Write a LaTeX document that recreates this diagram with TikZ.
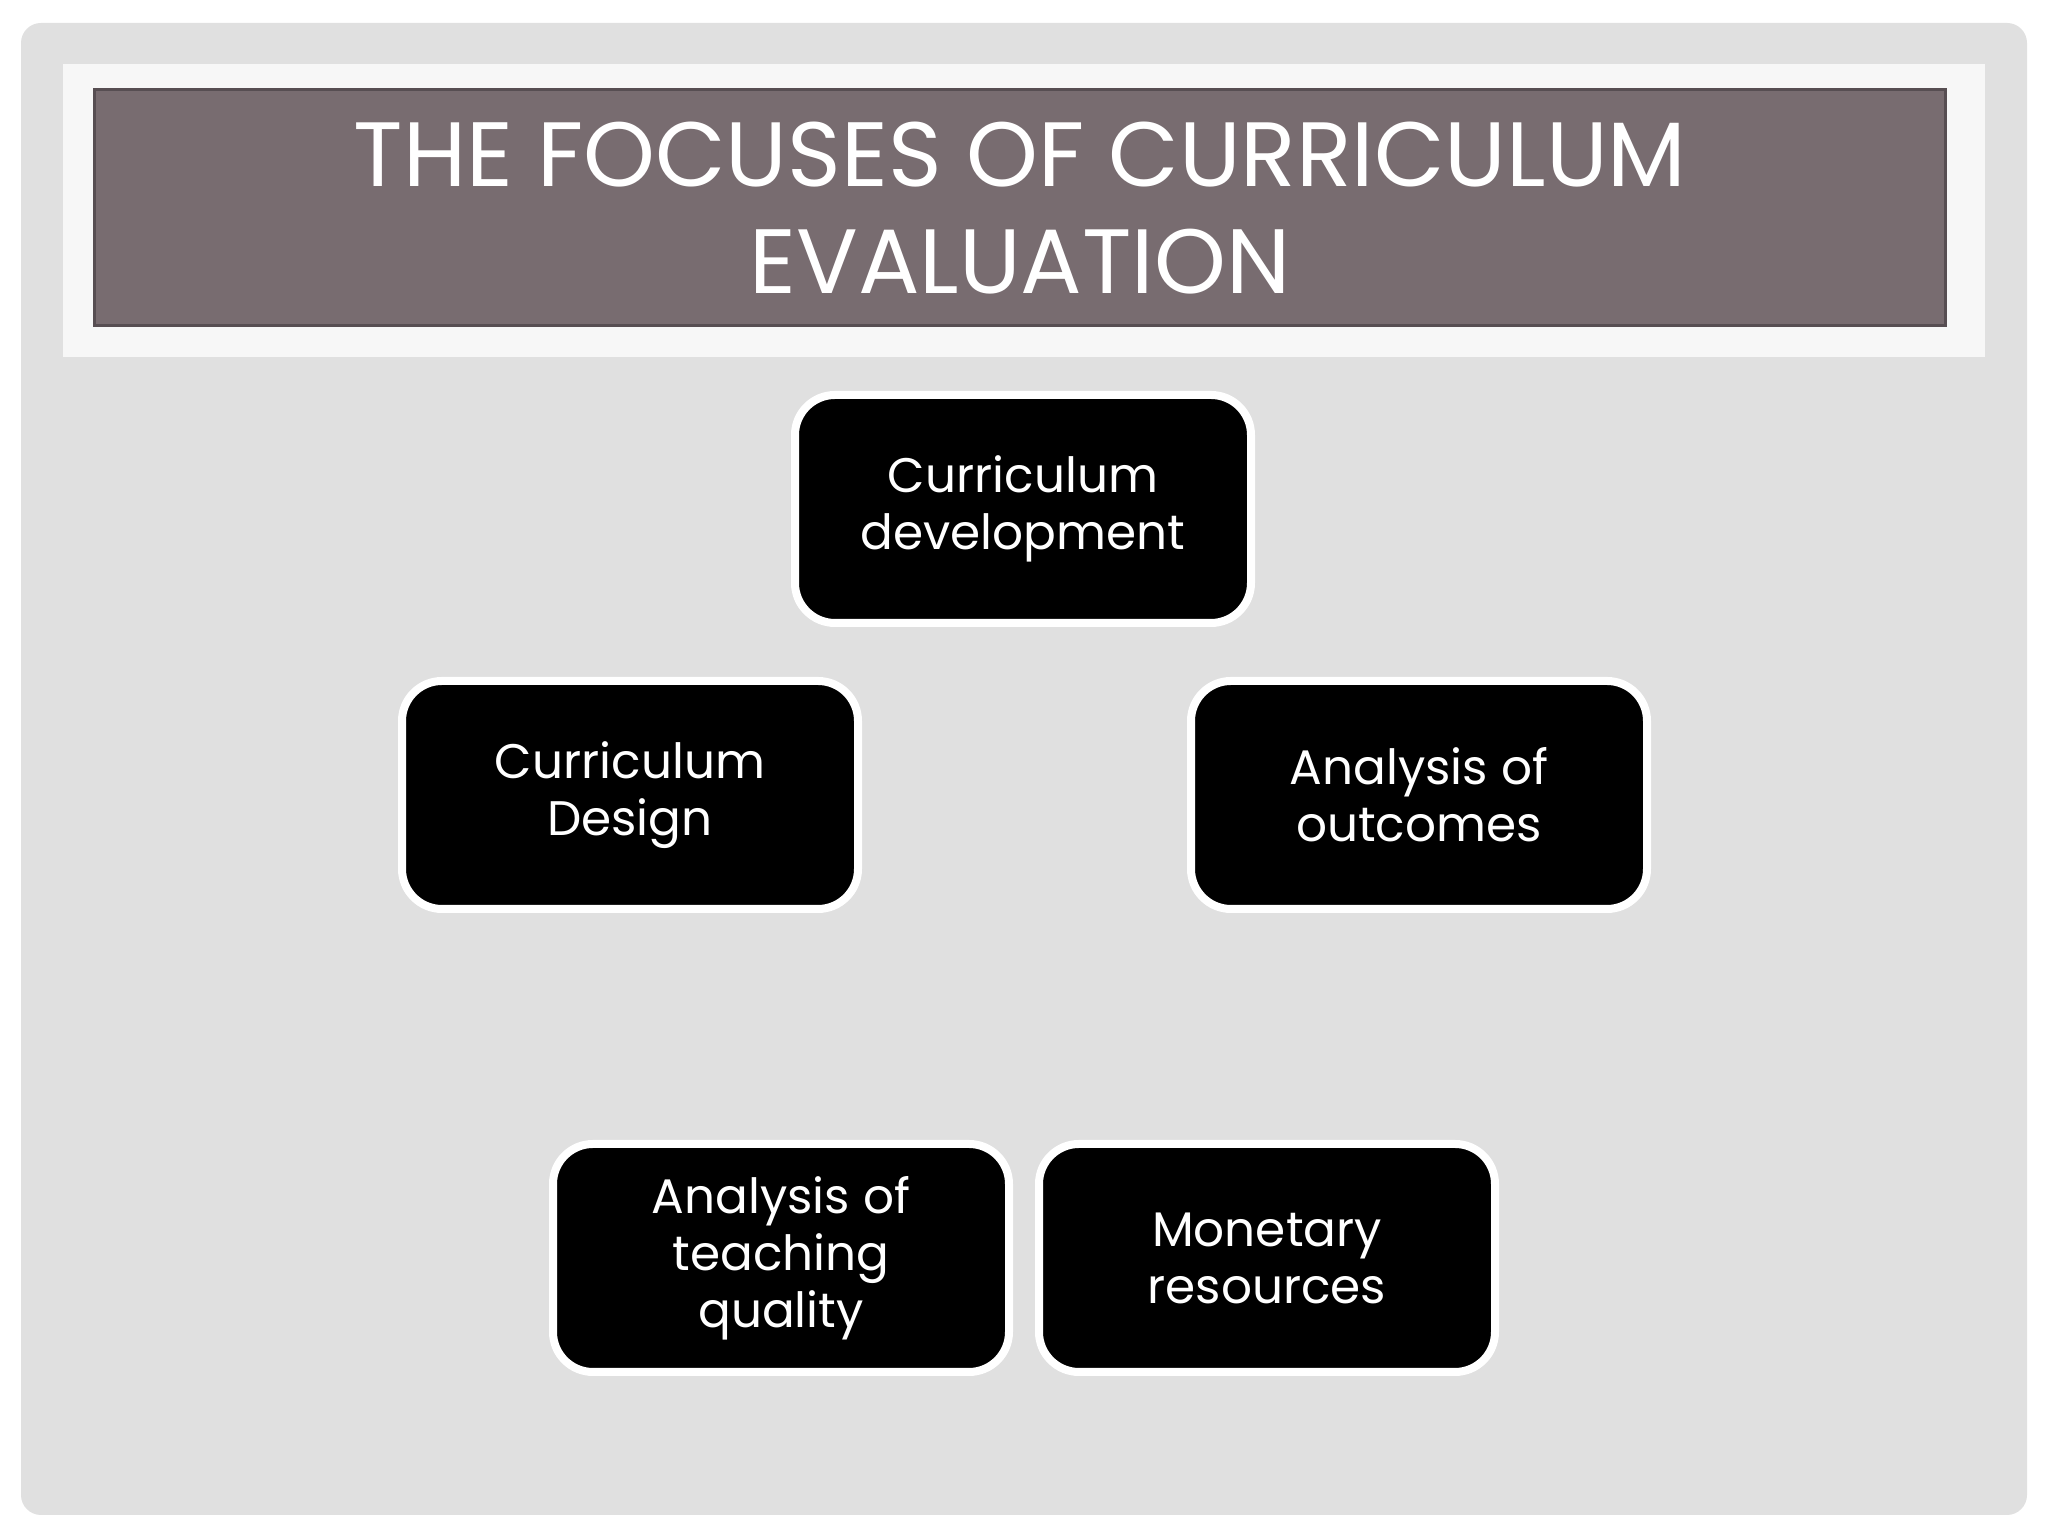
\documentclass[tikz,border=0pt]{standalone}
\usepackage{fontspec}
\setmainfont{Poppins}
\usepackage{xcolor}
\usetikzlibrary{positioning}
\definecolor{panelgray}{HTML}{E0E0E0}
\definecolor{stripwhite}{HTML}{F7F7F7}
\definecolor{titlefill}{HTML}{786C70}
\definecolor{titleline}{HTML}{574E52}
\tikzstyle{heading} = [rectangle, minimum width=18.51cm, minimum height=2.36cm, align=center, draw=titleline, line width=0.03cm, fill=titlefill, text=white, font=\fontsize{26}{30.4}\selectfont]
\tikzstyle{focus} = [rectangle, rounded corners=0.4cm, minimum width=4.56cm, minimum height=2.28cm, align=center, draw=white, line width=0.08cm, fill=black, text=white, font=\fontsize{13.8}{16.2}\selectfont]

\begin{document}
\begin{tikzpicture}
\useasboundingbox (0,0) rectangle (20.48,15.36);

% Sfondo della slide
\fill[white] (0,0) rectangle (20.48,15.36);
\fill[panelgray, rounded corners=0.2cm] (0.21,0.21) rectangle (20.27,15.13);
\fill[stripwhite] (0.63,11.79) rectangle (19.85,14.72);

% Titolo
\node (title) [heading] at (10.2,13.28) {THE FOCUSES OF CURRICULUM\\EVALUATION};

% Definizione dei nodi
\node (cur_development) [focus] at (10.23,10.27) {Curriculum\\development};
\node (cur_design) [focus] at (6.30,7.41) {Curriculum\\Design};
\node (outcomes) [focus] at (14.19,7.41) {Analysis of\\outcomes};
\node (teaching_quality) [focus] at (7.81,2.78) {Analysis of\\teaching\\quality};
\node (monetary) [focus, right=0.22cm of teaching_quality] {Monetary\\resources};

\end{tikzpicture}
\end{document}
